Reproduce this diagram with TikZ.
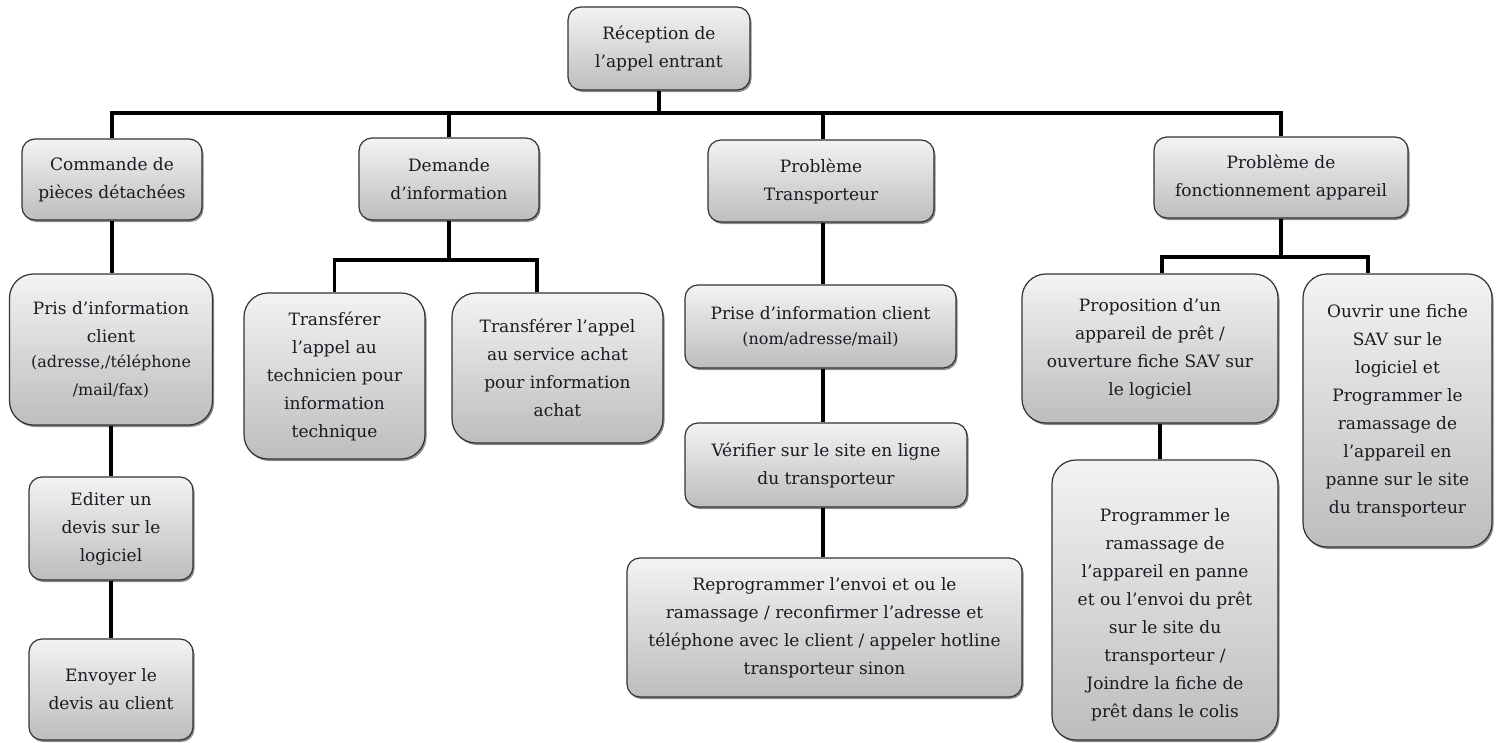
\documentclass[tikz,border=0pt]{standalone}
\usepackage{fontspec}
\setmainfont{DejaVu Serif}
\usetikzlibrary{shadows}

\definecolor{inkdark}{HTML}{1A1A22}
\definecolor{rim}{HTML}{333333}
\definecolor{shadetop}{HTML}{F3F3F3}
\definecolor{shadebot}{HTML}{BDBDBD}

\newcommand{\smalltxt}{\fontsize{16}{25}\selectfont}

\tikzset{
  card/.style={draw=rim, line width=1.2pt, rounded corners=13pt,
    top color=shadetop, bottom color=shadebot, text=inkdark,
    align=center, inner sep=2pt,
    font=\fontsize{17}{28}\selectfont,
    drop shadow={shadow xshift=1.5pt, shadow yshift=-2pt, opacity=0.45, fill=black}},
  tallcard/.style={card, rounded corners=24pt},
  cardtext/.style={text=inkdark, align=center, inner sep=0pt,
    font=\fontsize{17}{28}\selectfont},
  link/.style={draw=black, line width=3.5pt}
}

\begin{document}
\begin{tikzpicture}[x=1pt, y=-1pt]
  \useasboundingbox (0,0) rectangle (1499,742);
  \fill[white] (0,0) rectangle (1499,742);

  % root
  \node[card, minimum width=182pt, minimum height=83pt] (root) at (659,48.5)
    {Réception de\\l’appel entrant};

  % first level
  \node[card, minimum width=180pt, minimum height=81pt] (c1) at (112,179.5)
    {Commande de\\pièces détachées};
  \node[card, minimum width=180pt, minimum height=82pt] (c2) at (449,179)
    {Demande\\d’information};
  \node[card, minimum width=226pt, minimum height=82pt] (c3) at (821,181)
    {Problème\\Transporteur};
  \node[card, minimum width=254pt, minimum height=81pt] (c4) at (1281,177.5)
    {Problème de\\fonctionnement appareil};

  % spare parts column
  \node[tallcard, minimum width=203pt, minimum height=151pt] (a1) at (111,349.5)
    {Pris d’information\\client\\[-3pt]{\smalltxt (adresse,/téléphone}\\{\smalltxt /mail/fax)}};
  \node[card, minimum width=164pt, minimum height=103pt] (a2) at (111,528.5)
    {Editer un\\devis sur le\\logiciel};
  \node[card, minimum width=164pt, minimum height=101pt] (a3) at (111,689.5)
    {Envoyer le\\devis au client};

  % information request
  \node[tallcard, minimum width=181pt, minimum height=166pt] (b1) at (334.5,376)
    {Transférer\\l’appel au\\technicien pour\\information\\technique};
  \node[tallcard, minimum width=211pt, minimum height=150pt] (b2) at (557.5,368)
    {Transférer l’appel\\au service achat\\pour information\\achat};

  % carrier problem
  \node[card, minimum width=271pt, minimum height=83pt] (p1) at (820.5,326.5)
    {Prise d’information client\\[-3pt]{\smalltxt (nom/adresse/mail)}};
  \node[card, minimum width=282pt, minimum height=84pt] (p2) at (826,465)
    {Vérifier sur le site en ligne\\du transporteur};
  \node[card, minimum width=395pt, minimum height=139pt] (p3) at (824.5,627.5)
    {Reprogrammer l’envoi et ou le\\ramassage / reconfirmer l’adresse et\\téléphone avec le client / appeler hotline\\transporteur sinon};

  % device malfunction
  \node[tallcard, minimum width=256pt, minimum height=149pt] (f1) at (1150,348.5)
    {Proposition d’un\\appareil de prêt /\\ouverture fiche SAV sur\\le logiciel};
  \node[tallcard, minimum width=226pt, minimum height=280pt] (f2) at (1165,600) {};
  \node[cardtext] (f2text) at ([yshift=-15pt]f2.center)
    {Programmer le\\ramassage de\\l’appareil en panne\\et ou l’envoi du prêt\\sur le site du\\transporteur /\\Joindre la fiche de\\prêt dans le colis};
  \node[tallcard, minimum width=189pt, minimum height=273pt] (f3) at (1397.5,410.5)
    {Ouvrir une fiche\\SAV sur le\\logiciel et\\Programmer le\\ramassage de\\l’appareil en\\panne sur le site\\du transporteur};

  % connector rails
  \coordinate (mainbar) at (0,113);
  \coordinate (dbar) at (0,260);
  \coordinate (fbar) at (0,257);
  \coordinate (tcol) at (823,0);
  \coordinate (fcol) at (1160,0);
  \coordinate (b2in) at ([xshift=-20.5pt]b2.north);
  \coordinate (f1in) at ([xshift=12pt]f1.north);
  \coordinate (f3in) at ([xshift=-29.5pt]f3.north);

  \draw[link] (root.south) -- (root.south |- mainbar);
  \draw[link] (c1.north) -- (c1.north |- mainbar) -- (c4.north |- mainbar) -- (c4.north);
  \draw[link] (c2.north) -- (c2.north |- mainbar);
  \draw[link] (tcol |- c3.north) -- (tcol |- mainbar);

  \draw[link] (c1.south) -- (c1.south |- a1.north);
  \draw[link] (a1.south) -- (a1.south |- a2.north);
  \draw[link] (a2.south) -- (a2.south |- a3.north);

  \draw[link] (c2.south) -- (c2.south |- dbar);
  \draw[link] (b1.north) -- (b1.north |- dbar) -- (b2in |- dbar) -- (b2in);

  \draw[link] (tcol |- c3.south) -- (tcol |- p1.north);
  \draw[link] (tcol |- p1.south) -- (tcol |- p2.north);
  \draw[link] (tcol |- p2.south) -- (tcol |- p3.north);

  \draw[link] (c4.south) -- (c4.south |- fbar);
  \draw[link] (f1in) -- (f1in |- fbar) -- (f3in |- fbar) -- (f3in);
  \draw[link] (fcol |- f1.south) -- (fcol |- f2.north);
\end{tikzpicture}
\end{document}
